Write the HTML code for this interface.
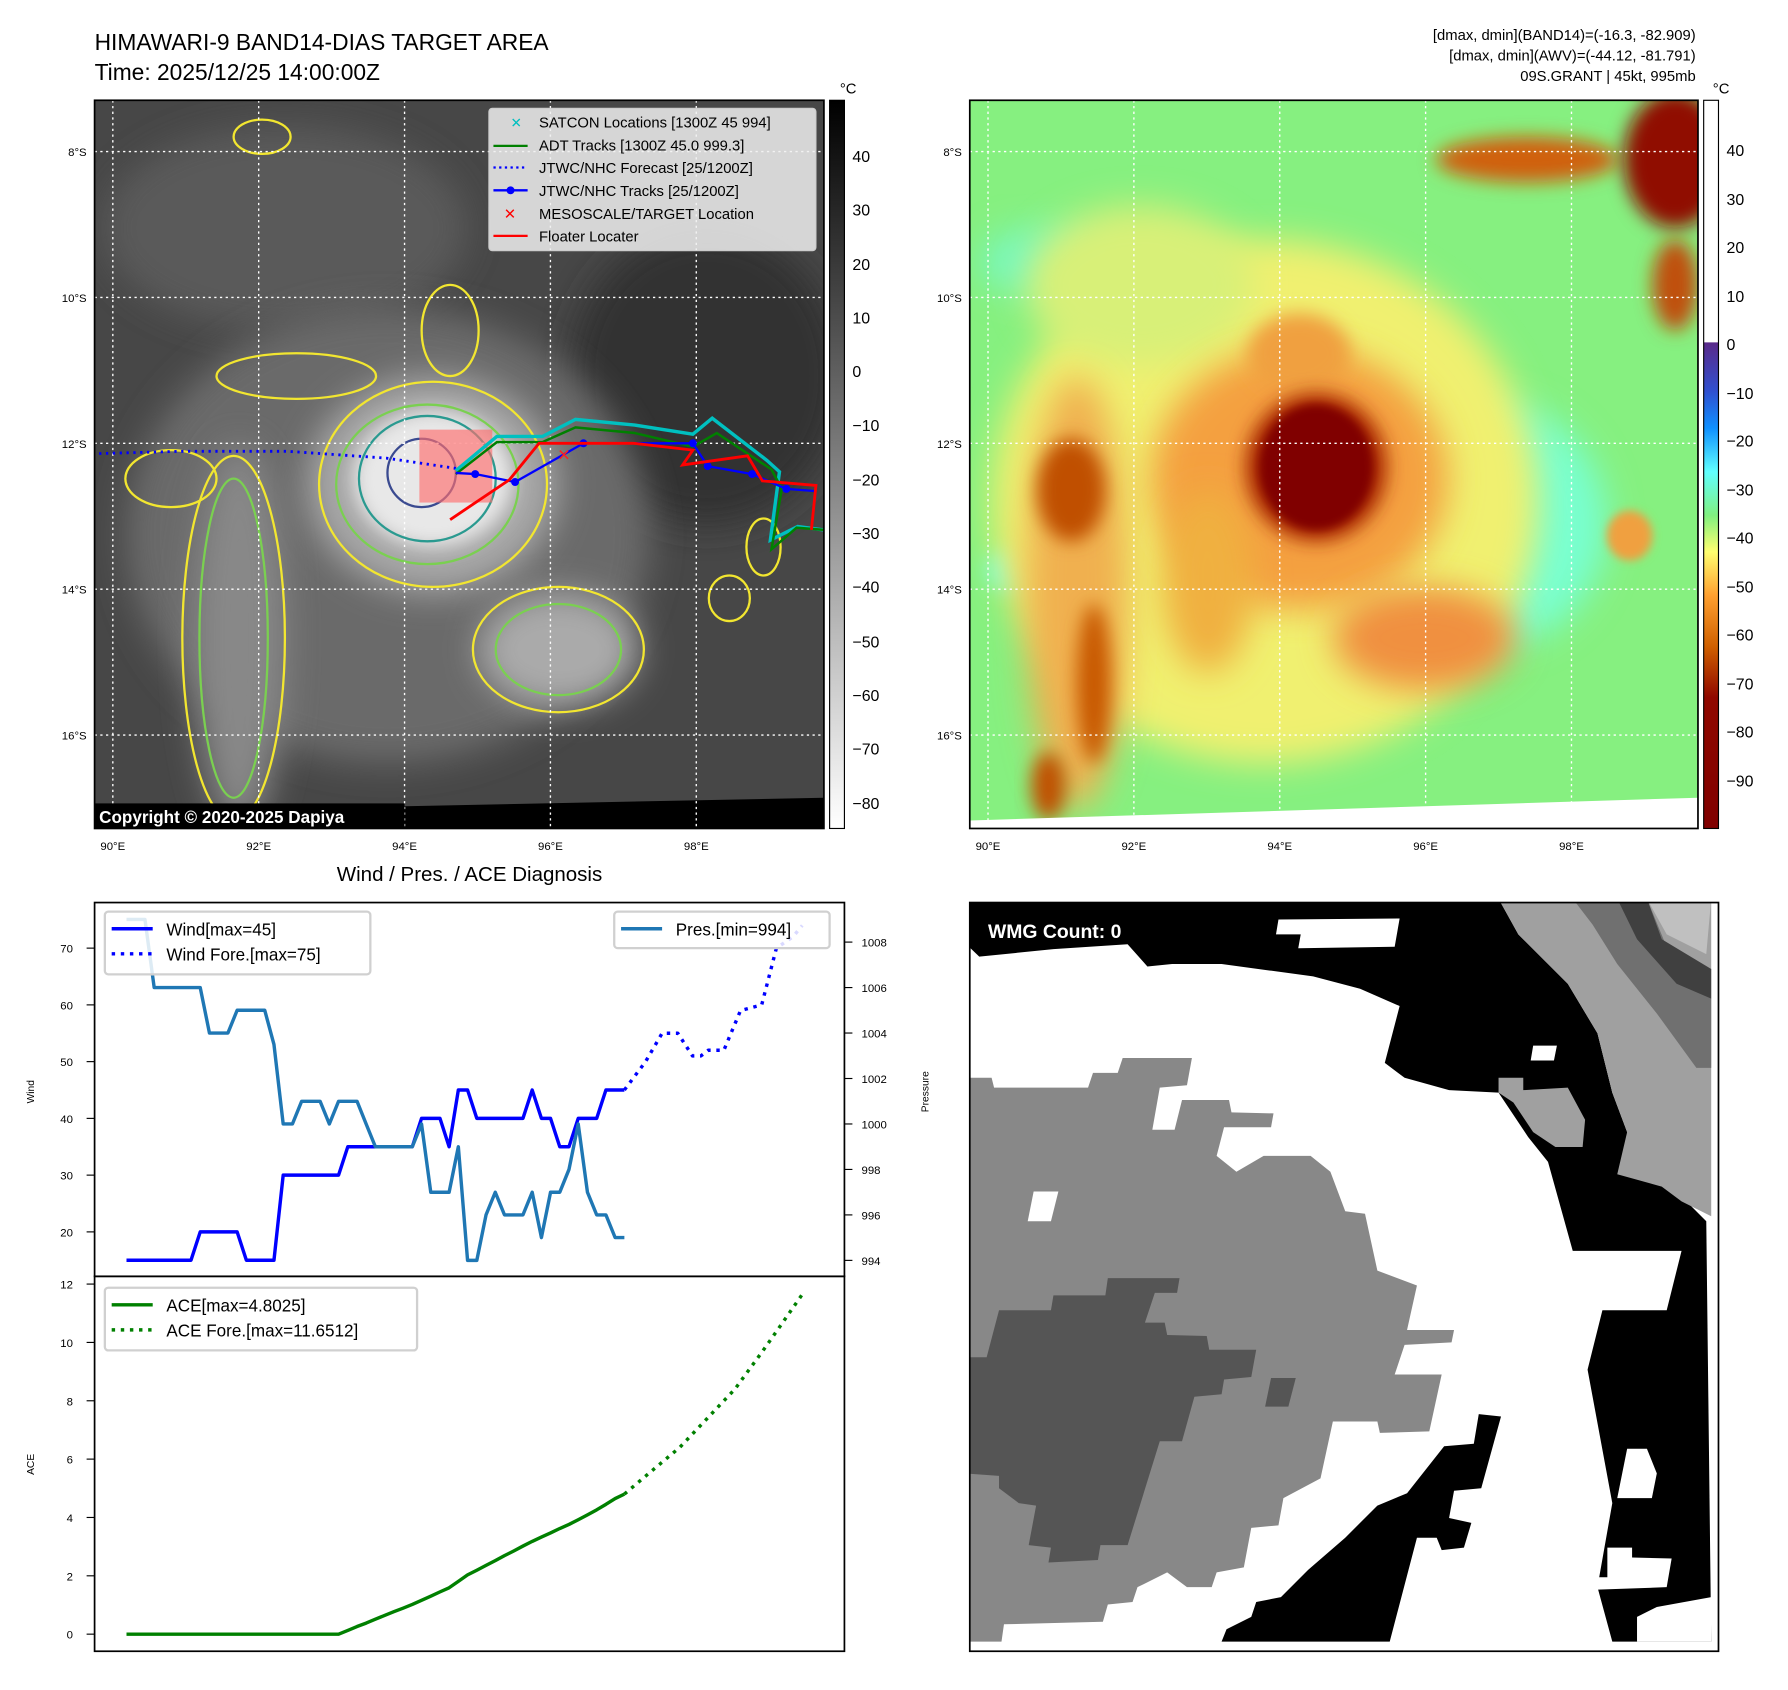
<!DOCTYPE html>
<html><head><meta charset="utf-8"><style>
html,body{margin:0;padding:0;background:#fff}
svg{display:block}
text{font-family:"Liberation Sans","DejaVu Sans",sans-serif}
</style></head><body>
<svg id="root" width="1788" height="1690" viewBox="0 0 1569 1483" xmlns="http://www.w3.org/2000/svg">
<defs>
<filter id="b8" x="-50%" y="-50%" width="200%" height="200%"><feGaussianBlur stdDeviation="8"/></filter>
<filter id="b15" x="-50%" y="-50%" width="200%" height="200%"><feGaussianBlur stdDeviation="15"/></filter>
<filter id="b4" x="-50%" y="-50%" width="200%" height="200%"><feGaussianBlur stdDeviation="4"/></filter>
<clipPath id="cl1"><rect x="83" y="88" width="640" height="639"/></clipPath>
<clipPath id="cl2"><rect x="851" y="88" width="639" height="639"/></clipPath>
<clipPath id="cl4"><rect x="851" y="792" width="657" height="657"/></clipPath>
<linearGradient id="gcb" x1="0" y1="0" x2="0" y2="1"><stop offset="0" stop-color="#000"/><stop offset="1" stop-color="#fff"/></linearGradient>
<linearGradient id="ccb" x1="0" y1="0" x2="0" y2="1">
<stop offset="0" stop-color="#fff"/><stop offset="0.332" stop-color="#fff"/>
<stop offset="0.333" stop-color="#5a2a8a"/><stop offset="0.40" stop-color="#3050d0"/>
<stop offset="0.45" stop-color="#1090ff"/><stop offset="0.51" stop-color="#60ffff"/>
<stop offset="0.57" stop-color="#80f080"/><stop offset="0.62" stop-color="#ffff70"/>
<stop offset="0.68" stop-color="#ffa030"/><stop offset="0.75" stop-color="#d06000"/>
<stop offset="0.82" stop-color="#900800"/><stop offset="1" stop-color="#800000"/>
</linearGradient>
</defs>

<text x="83" y="44" font-size="20">HIMAWARI-9 BAND14-DIAS TARGET AREA</text>
<text x="83" y="70" font-size="20">Time: 2025/12/25 14:00:00Z</text>
<g font-size="13" text-anchor="end">
<text x="1488" y="35">[dmax, dmin](BAND14)=(-16.3, -82.909)</text>
<text x="1488" y="53">[dmax, dmin](AWV)=(-44.12, -81.791)</text>
<text x="1488" y="71">09S.GRANT | 45kt, 995mb</text>
</g>

<!-- LEFT MAP -->
<g clip-path="url(#cl1)">
<rect x="83" y="88" width="640" height="639" fill="#474747"/>
<ellipse cx="250" cy="200" rx="160" ry="90" fill="#5a5a5a" filter="url(#b15)"/>
<ellipse cx="620" cy="330" rx="120" ry="130" fill="#333" filter="url(#b15)"/>
<ellipse cx="340" cy="470" rx="230" ry="200" fill="#6a6a6a" filter="url(#b15)"/>
<ellipse cx="210" cy="560" rx="40" ry="170" fill="#888" filter="url(#b15)"/>
<ellipse cx="380" cy="425" rx="110" ry="95" fill="#a8a8a8" filter="url(#b15)"/>
<ellipse cx="380" cy="420" rx="70" ry="60" fill="#e8e8e8" filter="url(#b8)"/>
<ellipse cx="490" cy="570" rx="70" ry="50" fill="#aaa" filter="url(#b15)"/>
<g fill="none" stroke-width="2">
<ellipse cx="380" cy="425" rx="100" ry="90" stroke="#f2e630"/>
<ellipse cx="375" cy="425" rx="80" ry="70" stroke="#7ad050"/>
<ellipse cx="375" cy="420" rx="60" ry="55" stroke="#2a9a90"/>
<ellipse cx="370" cy="415" rx="30" ry="30" stroke="#3a4a90"/>
<ellipse cx="490" cy="570" rx="75" ry="55" stroke="#f2e630"/>
<ellipse cx="490" cy="570" rx="55" ry="40" stroke="#7ad050"/>
<ellipse cx="205" cy="560" rx="45" ry="160" stroke="#f2e630"/>
<ellipse cx="205" cy="560" rx="30" ry="140" stroke="#7ad050"/>
<ellipse cx="395" cy="290" rx="25" ry="40" stroke="#f2e630"/>
<ellipse cx="670" cy="480" rx="15" ry="25" stroke="#f2e630"/>
<ellipse cx="640" cy="525" rx="18" ry="20" stroke="#f2e630"/>
<ellipse cx="260" cy="330" rx="70" ry="20" stroke="#f2e630"/>
<ellipse cx="150" cy="420" rx="40" ry="25" stroke="#f2e630"/>
<ellipse cx="230" cy="120" rx="25" ry="15" stroke="#f2e630"/>
</g>
<polygon points="83,713 723,700 723,727 83,727" fill="#000"/>
<g stroke="#fff" stroke-width="1.2" stroke-dasharray="2,3">
<line x1="99" y1="88" x2="99" y2="727"/><line x1="227" y1="88" x2="227" y2="727"/><line x1="355" y1="88" x2="355" y2="727"/><line x1="483" y1="88" x2="483" y2="727"/><line x1="611" y1="88" x2="611" y2="727"/>
<line x1="83" y1="133" x2="723" y2="133"/><line x1="83" y1="261" x2="723" y2="261"/><line x1="83" y1="389" x2="723" y2="389"/><line x1="83" y1="517" x2="723" y2="517"/><line x1="83" y1="645" x2="723" y2="645"/>
</g>
<rect x="368" y="377" width="64" height="64" fill="rgba(255,110,110,0.65)"/>
<polyline points="87,398 160,396 252,396 339,402 400,411" fill="none" stroke="#0000ff" stroke-width="2.5" stroke-dasharray="2,4"/>
<polyline points="400,413 436,383 476,383 505,368 557,373 608,381 625,367 673,404 684,414 676,474 700,462 723,465" fill="none" stroke="#00c0c0" stroke-width="3"/>
<polyline points="400,416 436,388 476,388 505,375 557,380 608,392 629,380 677,412 686,429 677,482 699,463 723,465" fill="none" stroke="#008000" stroke-width="2.2"/>
<polyline points="400,415 417,416 452,423 512,389 608,389 621,409 660,416 690,429 716,431" fill="none" stroke="#0000ff" stroke-width="2"/>
<g fill="#0000ff"><circle cx="417" cy="416" r="3.5"/><circle cx="452" cy="423" r="3.5"/><circle cx="512" cy="389" r="3.5"/><circle cx="608" cy="389" r="3.5"/><circle cx="621" cy="409" r="3.5"/><circle cx="660" cy="416" r="3.5"/><circle cx="690" cy="429" r="3.5"/></g>
<polyline points="395,456 447,421 473,389 556,389 608,395 599,408 656,400 669,422 716,426 712,465" fill="none" stroke="#ff0000" stroke-width="2.5"/>
<text x="489" y="404" font-size="14" fill="#ff2020" font-weight="bold">✕</text>
<rect x="83" y="705" width="272" height="22" fill="#000"/>
<text x="87" y="722" font-size="15" font-weight="bold" fill="#fff">Copyright © 2020-2025 Dapiya</text>
</g>
<rect x="83" y="88" width="640" height="639" fill="none" stroke="#000" stroke-width="1.5"/>
<g>
<rect x="429" y="95" width="287" height="125" rx="3" fill="rgba(240,240,240,0.85)" stroke="#ccc"/>
<g font-size="13">
<text x="448" y="112" fill="#00bfbf" font-size="12" font-weight="bold">✕</text><text x="473" y="112">SATCON Locations [1300Z 45 994]</text>
<line x1="433" y1="128" x2="463" y2="128" stroke="#008000" stroke-width="2"/><text x="473" y="132">ADT Tracks [1300Z 45.0 999.3]</text>
<line x1="433" y1="147" x2="463" y2="147" stroke="#0000ff" stroke-width="2" stroke-dasharray="2,3"/><text x="473" y="152">JTWC/NHC Forecast [25/1200Z]</text>
<line x1="433" y1="167" x2="463" y2="167" stroke="#0000ff" stroke-width="2"/><circle cx="448" cy="167" r="3.5" fill="#0000ff"/><text x="473" y="172">JTWC/NHC Tracks [25/1200Z]</text>
<text x="442" y="192" fill="#ff0000" font-size="13" font-weight="bold">✕</text><text x="473" y="192">MESOSCALE/TARGET Location</text>
<line x1="433" y1="207" x2="463" y2="207" stroke="#ff0000" stroke-width="2"/><text x="473" y="212">Floater Locater</text>
</g></g>
<rect x="728" y="88" width="13" height="639" fill="url(#gcb)" stroke="#000"/>
<text x="737" y="82" font-size="13">°C</text>
<g font-size="14">
<text x="748" y="142">40</text><text x="748" y="189">30</text><text x="748" y="237">20</text><text x="748" y="284">10</text><text x="748" y="331">0</text>
<text x="748" y="378">−10</text><text x="748" y="426">−20</text><text x="748" y="473">−30</text><text x="748" y="520">−40</text><text x="748" y="568">−50</text><text x="748" y="615">−60</text><text x="748" y="662">−70</text><text x="748" y="710">−80</text>
</g>
<g font-size="10" text-anchor="end">
<text x="76" y="137">8°S</text><text x="76" y="265">10°S</text><text x="76" y="393">12°S</text><text x="76" y="521">14°S</text><text x="76" y="649">16°S</text>
</g>
<g font-size="10" text-anchor="middle">
<text x="99" y="746">90°E</text><text x="227" y="746">92°E</text><text x="355" y="746">94°E</text><text x="483" y="746">96°E</text><text x="611" y="746">98°E</text>
</g>

<!-- RIGHT MAP -->
<g clip-path="url(#cl2)">
<rect x="851" y="88" width="639" height="639" fill="#86f080"/>
<ellipse cx="1300" cy="460" rx="110" ry="110" fill="#78ffd0" filter="url(#b15)"/>
<ellipse cx="920" cy="230" rx="60" ry="30" fill="#78f8c0" filter="url(#b15)"/>
<ellipse cx="890" cy="500" rx="25" ry="20" fill="#70ffe0" filter="url(#b8)"/>
<ellipse cx="1110" cy="440" rx="240" ry="230" fill="#f0f070" filter="url(#b15)"/>
<ellipse cx="1000" cy="250" rx="100" ry="70" fill="#d8f078" filter="url(#b15)"/>
<ellipse cx="945" cy="520" rx="45" ry="190" fill="#f0b050" filter="url(#b15)"/>
<ellipse cx="940" cy="430" rx="30" ry="45" fill="#c05000" filter="url(#b8)"/>
<ellipse cx="960" cy="600" rx="15" ry="70" fill="#c85800" filter="url(#b8)"/>
<ellipse cx="920" cy="690" rx="15" ry="30" fill="#c05000" filter="url(#b8)"/>
<ellipse cx="1140" cy="420" rx="130" ry="115" fill="#f4a040" filter="url(#b15)"/>
<ellipse cx="1060" cy="510" rx="40" ry="80" fill="#f0b040" filter="url(#b15)"/>
<ellipse cx="1250" cy="560" rx="80" ry="45" fill="#f09040" filter="url(#b15)"/>
<ellipse cx="1140" cy="310" rx="45" ry="35" fill="#f0a040" filter="url(#b8)"/>
<ellipse cx="1155" cy="410" rx="62" ry="65" fill="#a82800" filter="url(#b8)"/>
<ellipse cx="1155" cy="410" rx="50" ry="55" fill="#800000" filter="url(#b4)"/>
<ellipse cx="1340" cy="140" rx="80" ry="20" fill="#d06010" filter="url(#b8)"/>
<ellipse cx="1470" cy="140" rx="45" ry="60" fill="#900a00" filter="url(#b8)"/>
<ellipse cx="1470" cy="250" rx="20" ry="40" fill="#c05010" filter="url(#b8)"/>
<ellipse cx="1430" cy="470" rx="20" ry="22" fill="#f0a040" filter="url(#b4)"/>
<polygon points="851,720 1490,700 1490,727 851,727" fill="#fff"/>
<g stroke="#fff" stroke-width="1.2" stroke-dasharray="2,3">
<line x1="867" y1="88" x2="867" y2="727"/><line x1="995" y1="88" x2="995" y2="727"/><line x1="1123" y1="88" x2="1123" y2="727"/><line x1="1251" y1="88" x2="1251" y2="727"/><line x1="1379" y1="88" x2="1379" y2="727"/>
<line x1="851" y1="133" x2="1490" y2="133"/><line x1="851" y1="261" x2="1490" y2="261"/><line x1="851" y1="389" x2="1490" y2="389"/><line x1="851" y1="517" x2="1490" y2="517"/><line x1="851" y1="645" x2="1490" y2="645"/>
</g>
</g>
<rect x="851" y="88" width="639" height="639" fill="none" stroke="#000" stroke-width="1.5"/>
<rect x="1495" y="88" width="13" height="639" fill="url(#ccb)" stroke="#000"/>
<text x="1503" y="82" font-size="13">°C</text>
<g font-size="14">
<text x="1515" y="137">40</text><text x="1515" y="180">30</text><text x="1515" y="222">20</text><text x="1515" y="265">10</text><text x="1515" y="307">0</text>
<text x="1515" y="350">−10</text><text x="1515" y="392">−20</text><text x="1515" y="435">−30</text><text x="1515" y="477">−40</text><text x="1515" y="520">−50</text><text x="1515" y="562">−60</text><text x="1515" y="605">−70</text><text x="1515" y="647">−80</text><text x="1515" y="690">−90</text>
</g>
<g font-size="10" text-anchor="end">
<text x="844" y="137">8°S</text><text x="844" y="265">10°S</text><text x="844" y="393">12°S</text><text x="844" y="521">14°S</text><text x="844" y="649">16°S</text>
</g>
<g font-size="10" text-anchor="middle">
<text x="867" y="746">90°E</text><text x="995" y="746">92°E</text><text x="1123" y="746">94°E</text><text x="1251" y="746">96°E</text><text x="1379" y="746">98°E</text>
</g>

<!-- WMG panel -->
<g clip-path="url(#cl4)">
<rect x="851" y="792" width="657" height="657" fill="#fff"/>
<g transform="translate(837.6,776.5) scale(0.434)">
<polygon fill="#000" points="22,28 1100,28 1140,100 1240,200 1300,300 1330,420 1360,500 1380,560 1440,600 1520,680 1530,1530 1330,1530 1300,1420 1330,1250 1280,980 1310,860 1440,860 1470,740 1250,740 1200,560 1160,510 1100,420 1000,415 910,390 870,360 900,245 820,210 725,185 540,160 440,160 390,165 350,120 200,130 50,145 22,118"/>
<polygon fill="#fff" points="1320,1340 1370,1340 1370,1360 1450,1362 1440,1420 1300,1425 1300,1400 1320,1400"/>
<polygon fill="#fff" points="1360,1140 1400,1140 1420,1190 1410,1240 1340,1240"/>
<polygon fill="#fff" points="1420,1460 1530,1440 1530,1530 1380,1530 1380,1480"/>
<polygon fill="#fff" points="655,70 900,68 890,125 695,128 700,100 650,100"/>
<polygon fill="#fff" points="1170,325 1218,325 1212,355 1165,355"/>
<polygon fill="#a0a0a0" points="1100,28 1530,28 1530,670 1470,640 1430,610 1340,585 1360,500 1330,420 1300,300 1240,200 1140,100"/>
<polygon fill="#a0a0a0" points="1100,390 1150,390 1150,415 1240,410 1275,475 1270,530 1215,530 1170,500 1130,440 1100,420"/>
<polygon fill="#707070" points="1250,28 1400,28 1450,150 1530,230 1530,370 1500,370 1420,260 1340,160 1290,80"/>
<polygon fill="#404040" points="1340,28 1400,28 1430,110 1530,170 1530,230 1460,200 1380,110"/>
<polygon fill="#c0c0c0" points="1400,28 1530,28 1520,140 1440,100"/>
<polygon fill="#888" points="22,390 75,390 80,410 270,410 280,380 330,380 340,350 480,350 470,405 415,410 400,495 445,495 460,435 555,435 560,460 645,462 640,490 545,490 530,548 570,580 625,548 720,548 760,580 790,660 830,665 855,780 935,810 915,900 1010,900 1005,925 910,930 890,990 985,990 960,1105 860,1108 855,1085 765,1085 740,1200 665,1240 655,1295 600,1300 585,1380 530,1390 520,1420 470,1420 430,1390 370,1420 360,1450 310,1455 300,1490 100,1495 95,1530 22,1530"/>
<polygon fill="#fff" points="160,620 210,620 195,680 148,680"/>
<polygon fill="#555" points="22,955 65,955 90,860 195,860 200,830 305,830 310,795 455,795 450,825 405,825 385,885 425,885 430,910 510,912 515,940 610,940 600,995 545,1000 540,1030 485,1035 460,1125 415,1125 350,1335 295,1335 290,1365 190,1370 195,1340 150,1335 165,1255 130,1250 90,1220 90,1195 22,1190"/>
<polygon fill="#555" points="640,997 690,997 675,1055 628,1055"/>
<polygon fill="#000" points="540,1530 550,1505 600,1480 610,1450 660,1440 715,1385 790,1320 855,1255 915,1230 990,1135 1050,1130 1060,1070 1105,1075 1065,1220 1010,1225 1000,1280 1045,1290 1030,1340 985,1345 975,1320 935,1320 880,1530"/>
</g>
<text x="867" y="823" font-size="17" font-weight="bold" fill="#fff">WMG Count: 0</text>
</g>
<rect x="851" y="792" width="657" height="657" fill="none" stroke="#000" stroke-width="1.5"/>

<text x="412" y="773" font-size="18" text-anchor="middle">Wind / Pres. / ACE Diagnosis</text>
<g id="charts"></g>
</svg>
<script>
const windObs=[15,15,15,15,15,15,15,15,20,20,20,20,20,15,15,15,15,30,30,30,30,30,30,30,35,35,35,35,35,35,35,35,40,40,40,35,45,45,40,40,40,40,40,40,45,40,40,35,35,40,40,40,45,45,45];
const presObs=[1009,1009,1009,1006,1006,1006,1006,1006,1006,1004,1004,1004,1005,1005,1005,1005,1003.5,1000,1000,1001,1001,1001,1000,1001,1001,1001,1000,999,999,999,999,999,1000,997,997,997,999,994,994,996,997,996,996,996,997,995,997,997,998,1000,997,996,996,995,995];
const aceObs=[0,0,0,0,0,0,0,0,0,0,0,0,0,0,0,0,0,0,0,0,0,0,0,0,0.13,0.26,0.38,0.51,0.64,0.77,0.89,1.02,1.16,1.30,1.45,1.59,1.81,2.03,2.19,2.36,2.52,2.69,2.85,3.02,3.18,3.33,3.47,3.62,3.76,3.92,4.09,4.26,4.45,4.65,4.80];
const foreIdx=[54,56.3,58.1,59.8,61.4,62.3,63.1,64.8,66.6,68.9,70.5,72.3,73.3];
const windFore=[45,50,55,55,51,51,52,52,59,60,70,72,74];
const aceForeIdx=[54,57,60,63,66,69,71,73.3];
const aceFore=[4.8,5.6,6.4,7.4,8.4,9.7,10.6,11.65];
const windTicks=[20,30,40,50,60,70];
const presTicks=[994,996,998,1000,1002,1004,1006,1008];
const aceTicks=[0,2,4,6,8,10,12];

const NS='http://www.w3.org/2000/svg';
const G=document.getElementById('charts');
function mk(tag,attrs,parent){const e=document.createElementNS(NS,tag);for(const k in attrs)e.setAttribute(k,attrs[k]);(parent||G).appendChild(e);return e;}
const xOf=i=>111+i*8.09;
const yW=v=>1081-(v-20)*4.98;
const yP=p=>1106-(p-994)*19.95;
const yA=a=>1434-a*25.6;

let f1=mk('rect',{x:83,y:792,width:658,height:328,fill:'none',stroke:'#000','stroke-width':1.5});


let f2=mk('rect',{x:83,y:1120,width:658,height:329,fill:'none',stroke:'#000','stroke-width':1.5});



function tick(x1,y,x2,label,tx,anchor,name){
  mk('line',{x1:x1,y1:y,x2:x2,y2:y,stroke:'#000','stroke-width':1});
  const t=mk('text',{x:tx,y:y+4,'font-size':10,'text-anchor':anchor});
  t.textContent=label;
  
  
}
windTicks.forEach(v=>tick(76,yW(v),83,v,64,'end','wind-tick-label'));
presTicks.forEach(v=>tick(741,yP(v),748,v,756,'start','pressure-tick-label'));
aceTicks.forEach(v=>tick(76,yA(v),83,v,64,'end','ace-tick-label'));

function lbl(txt,x,y,name){const t=mk('text',{x:x,y:y,'font-size':9,'text-anchor':'middle',transform:`rotate(-90 ${x} ${y})`});t.textContent=txt;

}
lbl('Wind',30,958,'wind-axis-title');
lbl('Pressure',815,958,'pressure-axis-title');
lbl('ACE',30,1285,'ace-axis-title');

function line(pts,color,w,dash,name){
  const p=mk('polyline',{points:pts.map(q=>q[0].toFixed(1)+','+q[1].toFixed(1)).join(' '),fill:'none',stroke:color,'stroke-width':w,'stroke-linejoin':'round'});
  if(dash)p.setAttribute('stroke-dasharray',dash);
  
  
}
line(windObs.map((v,i)=>[xOf(i),yW(v)]),'#0000ff',3,null,'wind-line');
line(foreIdx.map((ix,k)=>[xOf(ix),yW(windFore[k])]),'#0000ff',3,'3,5','wind-forecast-line');
line(presObs.map((v,i)=>[xOf(i),yP(v)]),'#1f77b4',3,null,'pressure-line');
line(aceObs.map((v,i)=>[xOf(i),yA(v)]),'#008000',3,null,'ace-line');
line(aceForeIdx.map((ix,k)=>[xOf(ix),yA(aceFore[k])]),'#008000',3,'3,5','ace-forecast-line');

function legend(x,y,w,h,items,name){
  const g=mk('g',{});
  
  
  mk('rect',{x:x,y:y,width:w,height:h,rx:3,fill:'rgba(255,255,255,0.85)',stroke:'#d0d0d0','stroke-width':2},g);
  items.forEach((it,k)=>{
    const cy=y+15+k*22;
    const l=mk('line',{x1:x+6,y1:cy,x2:x+42,y2:cy,stroke:it[1],'stroke-width':3},g);
    if(it[2])l.setAttribute('stroke-dasharray','3,5');
    const t=mk('text',{x:x+54,y:cy+6,'font-size':15},g);t.textContent=it[0];
  });
}
legend(92,800,233,55,[['Wind[max=45]','#0000ff',0],['Wind Fore.[max=75]','#0000ff',1]],'wind-legend');
legend(539,800,189,32,[['Pres.[min=994]','#1f77b4',0]],'pressure-legend');
legend(92,1130,274,55,[['ACE[max=4.8025]','#008000',0],['ACE Fore.[max=11.6512]','#008000',1]],'ace-legend');
</script>
</body></html>
